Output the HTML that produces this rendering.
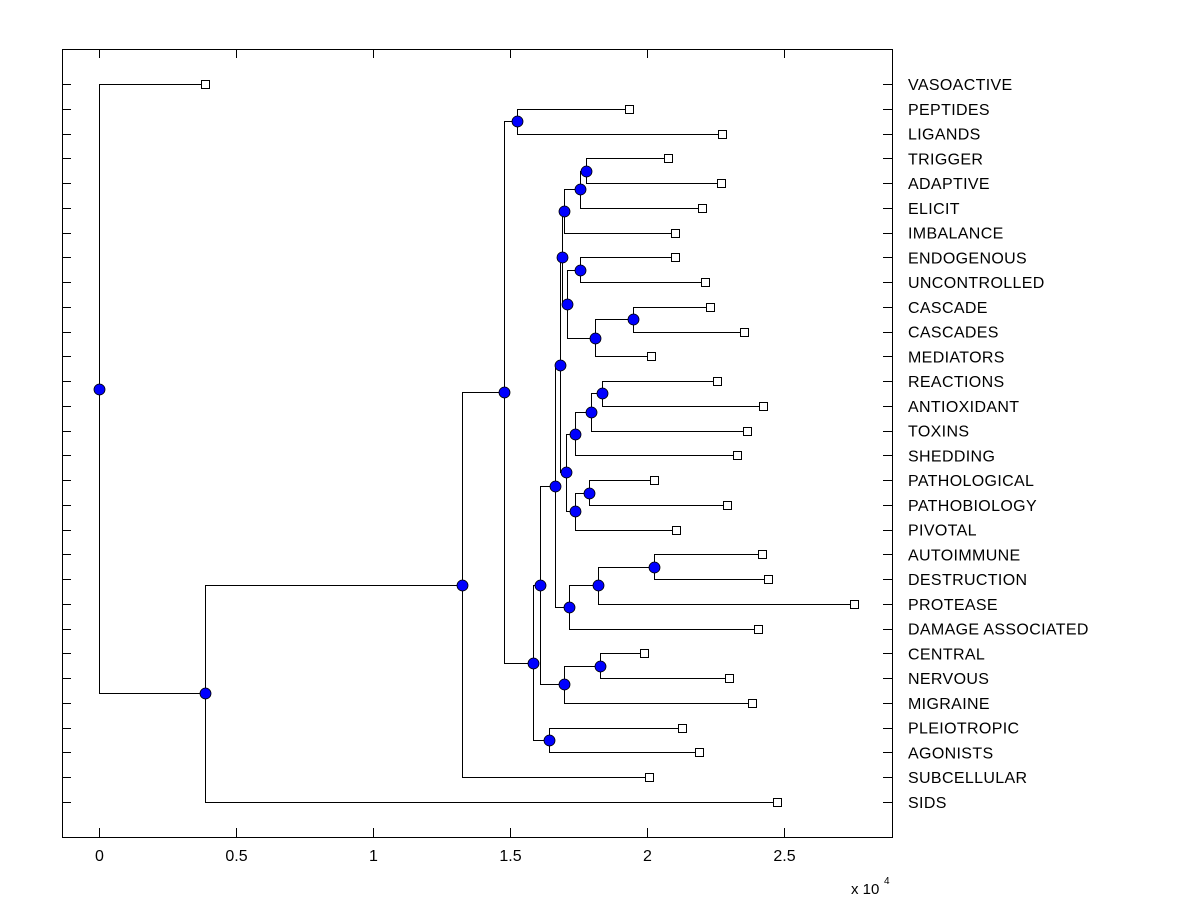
<!DOCTYPE html>
<html><head><meta charset="utf-8">
<style>
html,body{margin:0;padding:0;background:#fff;}
svg{display:block;font-family:"Liberation Sans",Arial,sans-serif;}
</style></head>
<body>
<svg id="chart" width="1200" height="900" viewBox="0 0 1200 900" xmlns="http://www.w3.org/2000/svg">
<rect x="0" y="0" width="1200" height="900" fill="#fff"/>
<g id="marks"></g>
<rect x="62.5" y="49.5" width="830" height="788" fill="none" stroke="#000" stroke-width="1" shape-rendering="crispEdges"/>
<g id="axes" shape-rendering="crispEdges"></g>
<text x="851" y="894" font-size="15">x 10</text>
<text x="884" y="884" font-size="10">4</text>
</svg>
<script>
const leafLabels = ["VASOACTIVE","PEPTIDES","LIGANDS","TRIGGER","ADAPTIVE","ELICIT","IMBALANCE","ENDOGENOUS","UNCONTROLLED","CASCADE","CASCADES","MEDIATORS","REACTIONS","ANTIOXIDANT","TOXINS","SHEDDING","PATHOLOGICAL","PATHOBIOLOGY","PIVOTAL","AUTOIMMUNE","DESTRUCTION","PROTEASE","DAMAGE ASSOCIATED","CENTRAL","NERVOUS","MIGRAINE","PLEIOTROPIC","AGONISTS","SUBCELLULAR","SIDS"];
const leafValues = [0.387,1.934,2.274,2.077,2.270,2.201,2.102,2.102,2.212,2.230,2.354,2.015,2.255,2.423,2.365,2.328,2.026,2.292,2.106,2.420,2.442,2.755,2.405,1.989,2.299,2.383,2.128,2.190,2.007,2.474];
const mergeLeft  = [1,3,31,32,7,9,35,34,33,12,39,40,16,42,41,38,19,46,47,45,23,50,49,26,52,30,55,56,0];
const mergeRight = [2,4,5,6,8,10,11,36,37,13,14,15,17,18,43,44,20,21,22,48,24,25,51,27,53,54,28,29,57];
const mergeValues = [1.526,1.777,1.755,1.697,1.755,1.949,1.810,1.708,1.690,1.836,1.796,1.737,1.788,1.737,1.704,1.682,2.026,1.821,1.715,1.664,1.828,1.697,1.609,1.642,1.584,1.478,1.325,0.387,0];
const xTicks = [0,0.5,1,1.5,2,2.5];
const xTickLabels = ["0","0.5","1","1.5","2","2.5"];

const NS = "http://www.w3.org/2000/svg";
const X0 = 99, XS = 274;
const Y0 = 84, YS = (802-84)/29;
const xs = v => Math.round(X0 + v*XS) + 0.5;
const ysRaw = i => Y0 + i*YS;
const snap = y => Math.round(y) + 0.5;
const marks = document.getElementById('marks');
const axes = document.getElementById('axes');
function mk(tag, attrs, parent){
  const e = document.createElementNS(NS, tag);
  for (const k in attrs) e.setAttribute(k, attrs[k]);
  parent.appendChild(e);
  return e;
}
const n = leafValues.length;
const nodeVal = leafValues.slice();
const nodeY = leafValues.map((v,i)=>ysRaw(i));
mergeLeft.forEach((l,k)=>{
  const r = mergeRight[k];
  nodeVal.push(mergeValues[k]);
  nodeY.push((nodeY[l]+nodeY[r])/2);
});
const lineG = mk('g',{'shape-rendering':'crispEdges'},marks);


const dotG = mk('g',{},marks);


mergeLeft.forEach((l,k)=>{
  const r = mergeRight[k];
  const px = xs(mergeValues[k]);
  const p = mk('path',{d:`M${xs(nodeVal[l])},${snap(nodeY[l])}H${px}V${snap(nodeY[r])}H${xs(nodeVal[r])}`,fill:'none',stroke:'#000','stroke-width':1},lineG);
  
  
});
mergeLeft.forEach((l,k)=>{
  const c = mk('circle',{cx:xs(mergeValues[k]),cy:snap(nodeY[n+k]),r:5.5,fill:'#0000ff',stroke:'#000','stroke-width':0.8},dotG);
  
  
});
leafValues.forEach((v,i)=>{
  const y = snap(ysRaw(i));
  const s = mk('rect',{x:xs(v)-4,y:y-4,width:8,height:8,fill:'#fff',stroke:'#000','stroke-width':1,'shape-rendering':'crispEdges'},marks);
  
  
  const t1 = mk('line',{x1:62,x2:71,y1:y,y2:y,stroke:'#000'},axes);
  
  
  const t2 = mk('line',{x1:883,x2:892,y1:y,y2:y,stroke:'#000'},axes);
  
  
  const t = mk('text',{x:908,y:ysRaw(i)+6,'font-size':16,'letter-spacing':'0.35'},axes);
  t.textContent = leafLabels[i];
  
  
});
xTicks.forEach((v,i)=>{
  const a = mk('line',{x1:xs(v),x2:xs(v),y1:828,y2:837,stroke:'#000'},axes);
  
  
  const b = mk('line',{x1:xs(v),x2:xs(v),y1:49,y2:58,stroke:'#000'},axes);
  
  
  const t = mk('text',{x:xs(v),y:861,'font-size':16,'text-anchor':'middle'},axes);
  t.textContent = xTickLabels[i];
  
  
});
</script>
</body></html>
